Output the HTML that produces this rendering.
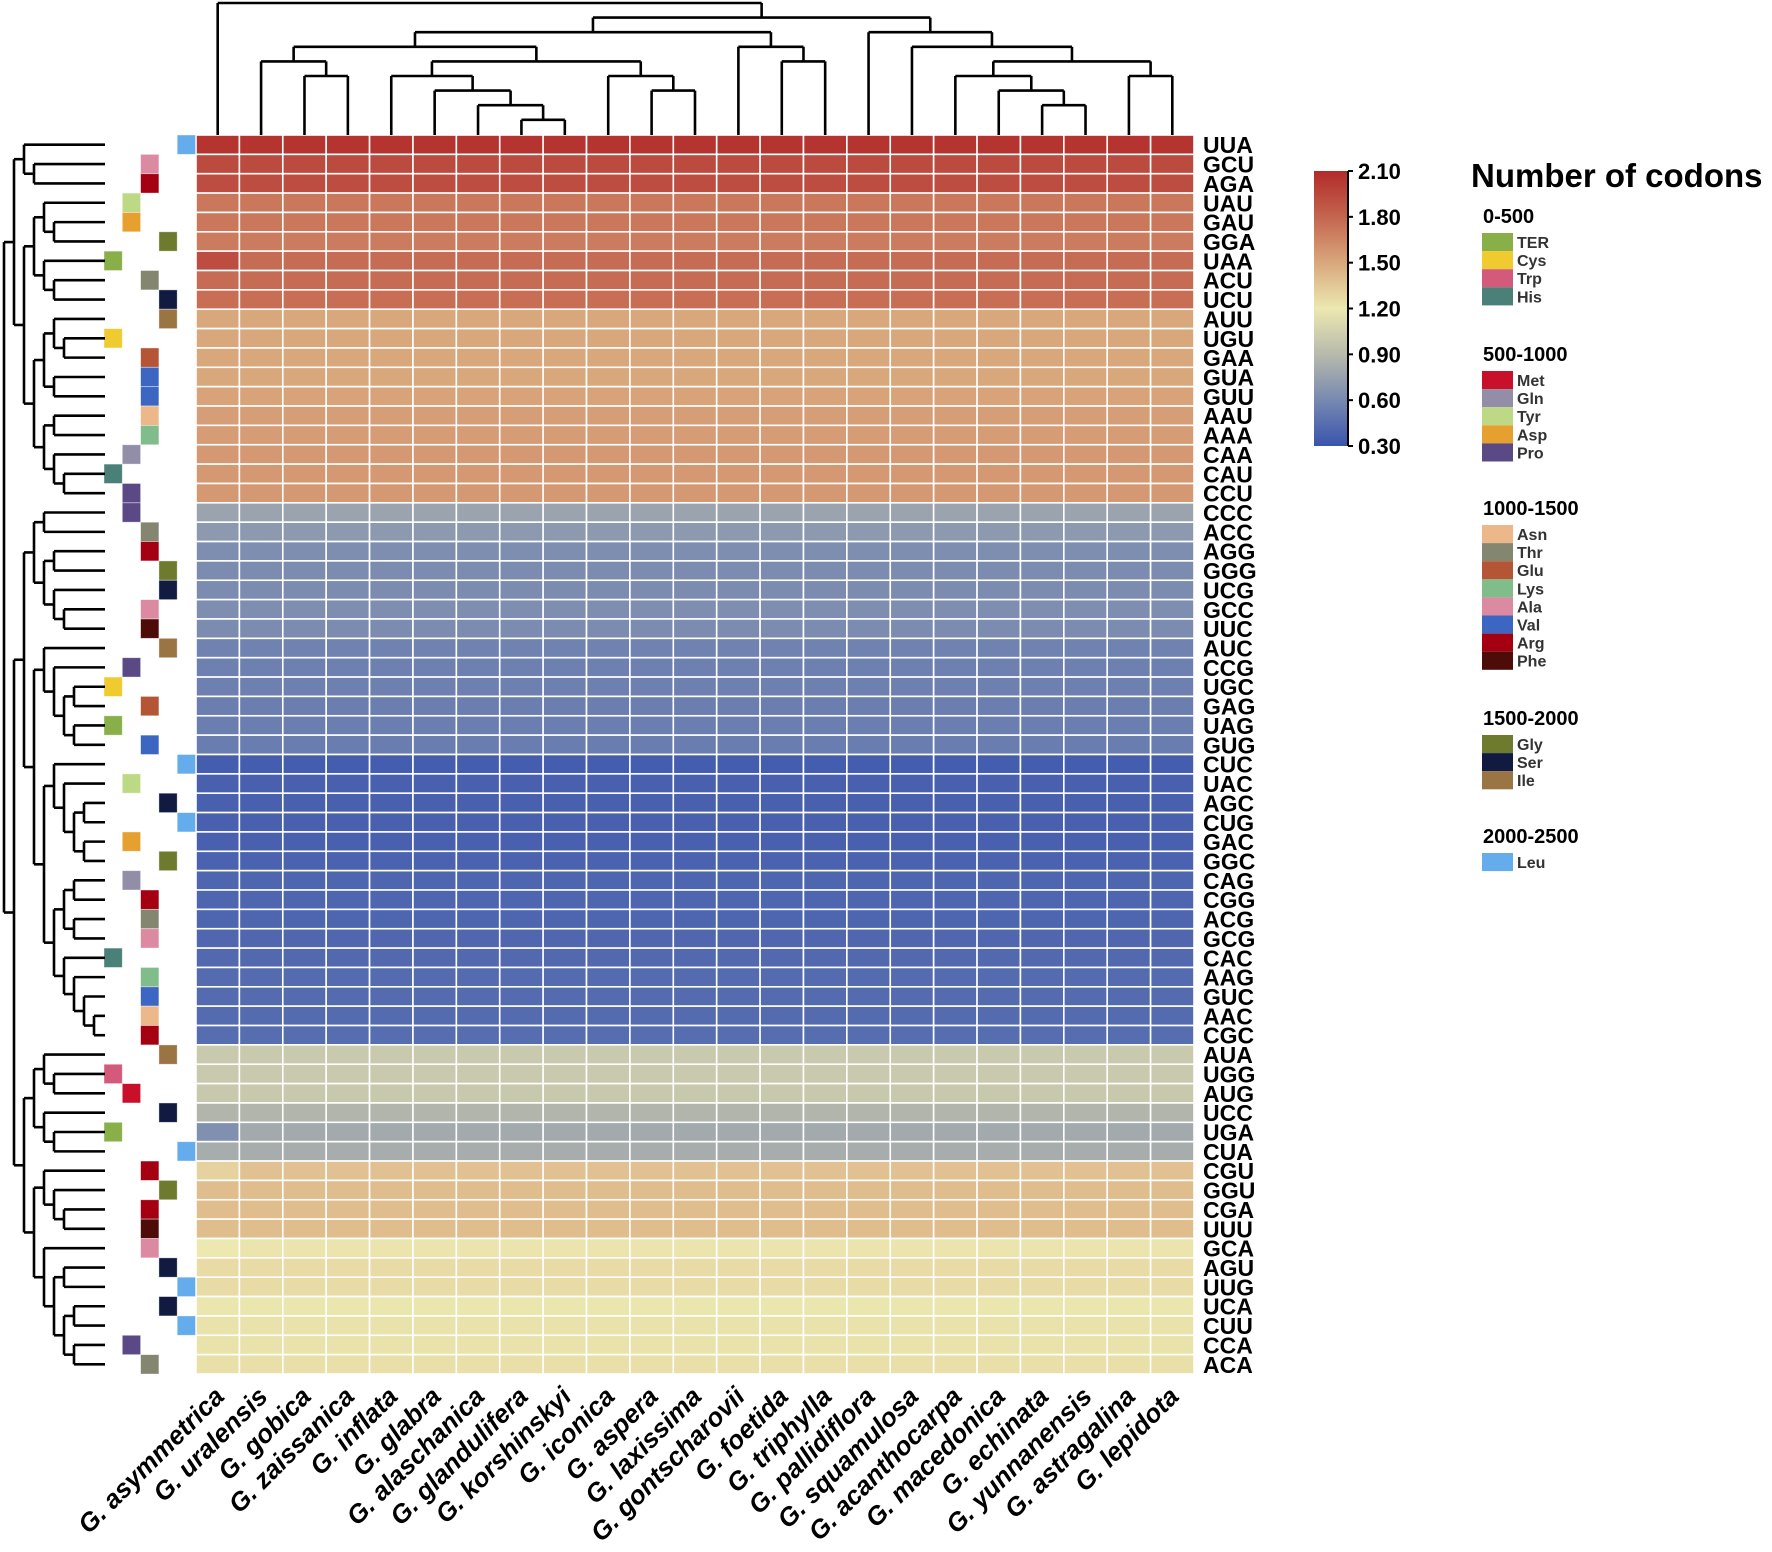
<!DOCTYPE html>
<html><head><meta charset="utf-8">
<style>
html,body{margin:0;padding:0;background:#fff;}
svg{display:block;font-family:"Liberation Sans",Arial,sans-serif;}
</style></head>
<body>
<svg id="chart" width="1772" height="1552" viewBox="0 0 1772 1552" xmlns="http://www.w3.org/2000/svg">
<g id="cells"></g>
<g id="annot"></g>
<g id="rowlabels"></g>
<g id="collabels"></g>
<g id="topdend" fill="none" stroke="#000" stroke-width="2.6"></g>
<g id="leftdend" fill="none" stroke="#000" stroke-width="2.6"></g>
<g id="colorbar"></g>
<g id="legend"></g>
</svg>
<script>
const species = ["G. asymmetrica","G. uralensis","G. gobica","G. zaissanica","G. inflata","G. glabra","G. alaschanica","G. glandulifera","G. korshinskyi","G. iconica","G. aspera","G. laxissima","G. gontscharovii","G. foetida","G. triphylla","G. pallidiflora","G. squamulosa","G. acanthocarpa","G. macedonica","G. echinata","G. yunnanensis","G. astragalina","G. lepidota"];
const codons = ["UUA","GCU","AGA","UAU","GAU","GGA","UAA","ACU","UCU","AUU","UGU","GAA","GUA","GUU","AAU","AAA","CAA","CAU","CCU","CCC","ACC","AGG","GGG","UCG","GCC","UUC","AUC","CCG","UGC","GAG","UAG","GUG","CUC","UAC","AGC","CUG","GAC","GGC","CAG","CGG","ACG","GCG","CAC","AAG","GUC","AAC","CGC","AUA","UGG","AUG","UCC","UGA","CUA","CGU","GGU","CGA","UUU","GCA","AGU","UUG","UCA","CUU","CCA","ACA"];
const rowValues = [2.05,1.93,1.92,1.72,1.72,1.7,1.77,1.77,1.76,1.5,1.5,1.5,1.5,1.52,1.54,1.55,1.57,1.57,1.57,0.76,0.7,0.63,0.62,0.62,0.63,0.62,0.56,0.55,0.55,0.54,0.54,0.53,0.35,0.37,0.37,0.37,0.37,0.38,0.4,0.4,0.4,0.41,0.42,0.43,0.43,0.43,0.44,1.0,1.0,0.99,0.87,0.8,0.82,1.38,1.4,1.4,1.4,1.22,1.26,1.26,1.21,1.23,1.23,1.24];
const cellExceptions = [[6,0,1.92],[51,0,0.64],[53,0,1.3],[57,0,1.2]];
const codonAA = {UUA:"Leu",GCU:"Ala",AGA:"Arg",UAU:"Tyr",GAU:"Asp",GGA:"Gly",UAA:"TER",ACU:"Thr",UCU:"Ser",AUU:"Ile",UGU:"Cys",GAA:"Glu",GUA:"Val",GUU:"Val",AAU:"Asn",AAA:"Lys",CAA:"Gln",CAU:"His",CCU:"Pro",CCC:"Pro",ACC:"Thr",AGG:"Arg",GGG:"Gly",UCG:"Ser",GCC:"Ala",UUC:"Phe",AUC:"Ile",CCG:"Pro",UGC:"Cys",GAG:"Glu",UAG:"TER",GUG:"Val",CUC:"Leu",UAC:"Tyr",AGC:"Ser",CUG:"Leu",GAC:"Asp",GGC:"Gly",CAG:"Gln",CGG:"Arg",ACG:"Thr",GCG:"Ala",CAC:"His",AAG:"Lys",GUC:"Val",AAC:"Asn",CGC:"Arg",AUA:"Ile",UGG:"Trp",AUG:"Met",UCC:"Ser",UGA:"TER",CUA:"Leu",CGU:"Arg",GGU:"Gly",CGA:"Arg",UUU:"Phe",GCA:"Ala",AGU:"Ser",UUG:"Leu",UCA:"Ser",CUU:"Leu",CCA:"Pro",ACA:"Thr"};
const groupNames = ["0-500","500-1000","1000-1500","1500-2000","2000-2500"];
const groupMembers = [["TER","Cys","Trp","His"],["Met","Gln","Tyr","Asp","Pro"],["Asn","Thr","Glu","Lys","Ala","Val","Arg","Phe"],["Gly","Ser","Ile"],["Leu"]];
const aaColor = {TER:"#88af48",Cys:"#efcb30",Trp:"#d35a7a",His:"#4a8077",Met:"#c8102a",Gln:"#928ea8",Tyr:"#bdd985",Asp:"#e6a030",Pro:"#5a4985",Asn:"#ecb88a",Thr:"#848670",Glu:"#b45536",Lys:"#80bd8a",Ala:"#db8aa2",Val:"#3d66c2",Arg:"#a50012",Phe:"#4d0c08",Gly:"#6e7a2e",Ser:"#111a40",Ile:"#9b7444",Leu:"#64acec"};
const scaleTicks = [2.10,1.80,1.50,1.20,0.90,0.60,0.30];
const scaleColors = ["#b22a2a","#c4654f","#d9a77c","#ece8b0","#b8baac","#7789b0","#3a54ae"];
const colTree = [0,0,[1,[2,[3,[4,1,[5,2,3]],[4,[5,4,[6,5,[7,6,[8,7,8]]]],[5,9,[6,10,11]]]],[3,12,[4,13,14]]],[2,15,[3,16,[4,[5,17,[6,18,[7,19,20]]],[5,21,22]]]]]];
const rowTree = [0,
 [1,[2,0,[3,1,2]],[2,[3,[4,3,[5,4,5]],[4,6,[5,7,8]]],[3,[4,[5,9,[6,10,11]],[5,12,13]],[4,[5,14,15],[5,16,[6,17,18]]]]]],
 [1,[2,[3,[4,19,20],[4,[5,21,22],[5,23,[6,24,25]]]],[3,[4,26,[5,27,[6,[7,28,29],[7,30,31]]]],[4,[5,32,[6,33,[7,[8,34,35],[8,36,37]]]],[5,[6,[7,38,39],[7,40,41]],[6,42,[7,43,[8,44,[9,45,46]]]]]]]],
  [2,[3,[4,47,[5,48,49]],[4,50,[5,51,52]]],[3,[4,53,[5,54,[6,55,56]]],[4,57,[5,[6,58,59],[6,[7,60,61],[7,62,63]]]]]]]];

const NS="http://www.w3.org/2000/svg";
function mk(tag,attrs,parent){const e=document.createElementNS(NS,tag);for(const k in attrs)e.setAttribute(k,attrs[k]);parent.appendChild(e);return e;}
const HX0=196,HX1=1194,HY0=135,HY1=1374;
const nC=species.length,nR=codons.length;
const cw=(HX1-HX0)/nC, rh=(HY1-HY0)/nR;
const xCol=i=>HX0+cw*(i+0.5);
const yRow=r=>HY0+rh*(r+0.5);
const sVals=scaleTicks.slice().reverse(), sCols=scaleColors.slice().reverse();
function hex(c){return [1,3,5].map(i=>parseInt(c.substr(i,2),16));}
function colorFor(v){
  v=Math.max(sVals[0],Math.min(sVals[sVals.length-1],v));
  for(let i=0;i<sVals.length-1;i++){ if(v<=sVals[i+1]){const t=(v-sVals[i])/(sVals[i+1]-sVals[i]);const a=hex(sCols[i]),b=hex(sCols[i+1]);return "rgb("+a.map((x,j)=>Math.round(x+(b[j]-x)*t)).join(",")+")";}}
  return sCols[sCols.length-1];
}
const cells=document.getElementById('cells');
for(let r=0;r<nR;r++){for(let c=0;c<nC;c++){
  let v=rowValues[r];
  cellExceptions.forEach(e=>{if(e[0]===r&&e[1]===c)v=e[2];});
  const el=mk('rect',{x:HX0+c*cw,y:HY0+r*rh,width:cw,height:rh,fill:colorFor(v),stroke:"#fff","stroke-width":1.6},cells);
  
  
}}
const annot=document.getElementById('annot');
const annX=[104,122.3,140.6,158.9,177.2];
codons.forEach((cd,r)=>{
  const aa=codonAA[cd];const g=groupMembers.findIndex(m=>m.includes(aa));
  const el=mk('rect',{x:annX[g],y:HY0+r*rh,width:18.3,height:rh,fill:aaColor[aa],stroke:"#fff","stroke-opacity":0.5,"stroke-width":0.8},annot);
  
  
});
const rl=document.getElementById('rowlabels');
codons.forEach((cd,r)=>{
  const t=mk('text',{x:1203,y:yRow(r)+8.5,"font-size":23,"font-weight":"bold",fill:"#000"},rl);
  t.textContent=cd;
  
  
});
const cl=document.getElementById('collabels');
species.forEach((s,i)=>{
  const x=xCol(i)+8,y=1398;
  const t=mk('text',{x:x,y:y,"font-size":26,"font-weight":"bold","font-style":"italic","text-anchor":"end",transform:"rotate(-45 "+x+" "+y+")"},cl);
  t.textContent=s;
  
  
});
function layout(node,pos){ if(typeof node==='number')return {p:pos(node),leaf:true};
  const a=layout(node[1],pos),b=layout(node[2],pos);return {p:(a.p+b.p)/2,k:node[0],a:a,b:b};}
function drawTop(n,g){ if(n.leaf)return;
  const y=3+14.6*n.k;
  [n.a,n.b].forEach(ch=>{const yc=ch.leaf?HY0:3+14.6*ch.k;mk('line',{x1:ch.p,y1:y,x2:ch.p,y2:yc},g);drawTop(ch,g);});
  mk('line',{x1:n.a.p,y1:y,x2:n.b.p,y2:y},g);
}
function drawLeft(n,g){ if(n.leaf)return;
  const x=4+10*n.k;
  [n.a,n.b].forEach(ch=>{const xc=ch.leaf?105:4+10*ch.k;mk('line',{x1:x,y1:ch.p,x2:xc,y2:ch.p},g);drawLeft(ch,g);});
  mk('line',{x1:x,y1:n.a.p,x2:x,y2:n.b.p},g);
}
drawTop(layout(colTree,xCol),document.getElementById('topdend'));
drawLeft(layout(rowTree,yRow),document.getElementById('leftdend'));
const cb=document.getElementById('colorbar');
const CBT=171,CBB=446,CBX=1314,CBW=34;
const defs=mk('defs',{},cb);
const grad=mk('linearGradient',{id:"cbg",x1:0,y1:0,x2:0,y2:1},defs);
scaleColors.forEach((c,i)=>mk('stop',{offset:(i/(scaleColors.length-1)),"stop-color":c},grad));
const bar=mk('rect',{x:CBX,y:CBT,width:CBW,height:CBB-CBT,fill:"url(#cbg)"},cb);


mk('line',{x1:CBX+CBW,y1:CBT,x2:CBX+CBW,y2:CBB,stroke:"#000","stroke-width":2},cb);
const yScale=v=>CBB-(v-0.3)/(2.1-0.3)*(CBB-CBT);
scaleTicks.forEach(v=>{const y=yScale(v);
  mk('line',{x1:CBX+CBW,y1:y,x2:CBX+CBW+5,y2:y,stroke:"#000","stroke-width":2},cb);
  const t=mk('text',{x:1358,y:y+8,"font-size":22,"font-weight":"bold"},cb);t.textContent=v.toFixed(2);
  
  
});
const lg=document.getElementById('legend');
const title=mk('text',{x:1471,y:187,"font-size":33,"font-weight":"bold"},lg);title.textContent="Number of codons";


const groupY=[223,361,515,725,843];
groupNames.forEach((gname,gi)=>{
  const h=mk('text',{x:1483,y:groupY[gi],"font-size":20,"font-weight":"bold"},lg);h.textContent=gname;
  
  
  groupMembers[gi].forEach((aa,j)=>{
    const y=groupY[gi]+10+j*18.1;
    const sw=mk('rect',{x:1482,y:y,width:31,height:18.1,fill:aaColor[aa]},lg);
    
    
    const t=mk('text',{x:1517,y:y+15,"font-size":16,"font-weight":"bold",fill:"#333"},lg);t.textContent=aa;
    
    
  });
});
</script>
</body></html>
